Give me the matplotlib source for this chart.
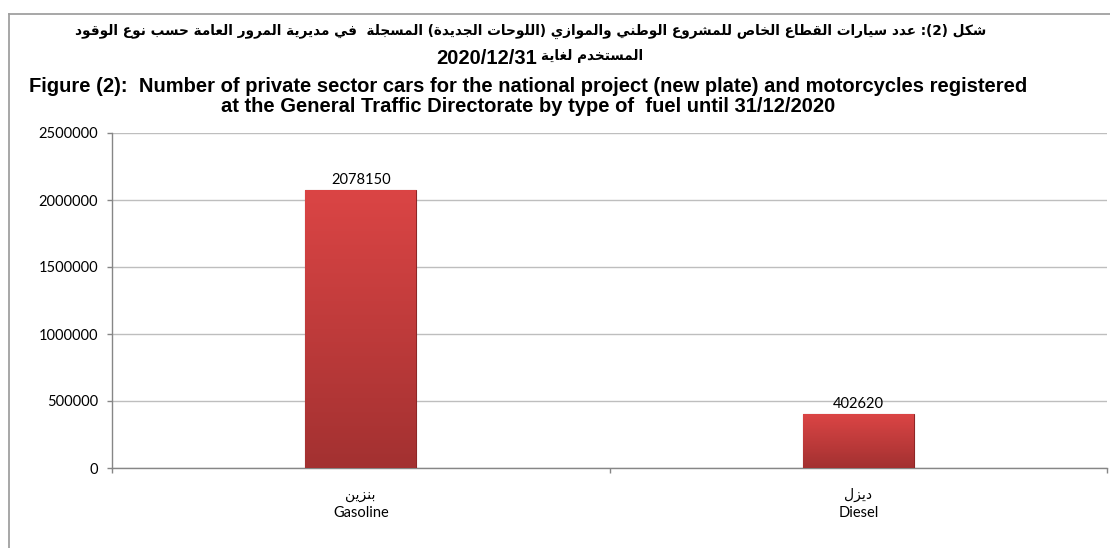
import re

import matplotlib
matplotlib.use("Agg")
import matplotlib.pyplot as plt
import numpy as np
from matplotlib.colors import LinearSegmentedColormap
from matplotlib.lines import Line2D

# --- data ---------------------------------------------------------------
categories_ar = ["بنزين", "ديزل"]
categories_en = ["Gasoline", "Diesel"]
values = [2078150, 402620]
y_ticks = [0, 500000, 1000000, 1500000, 2000000, 2500000]

title_ar_1 = "شكل (2): عدد سيارات القطاع الخاص للمشروع الوطني والموازي (اللوحات الجديدة) المسجلة  في مديرية المرور العامة حسب نوع الوقود"
title_ar_2 = "المستخدم لغاية"
title_date = "2020/12/31"
title_en_1 = "Figure (2):  Number of private sector cars for the national project (new plate) and motorcycles registered"
title_en_2 = "at the General Traffic Directorate by type of  fuel until 31/12/2020"

# --- minimal arabic shaping (matplotlib has no bidi / joining) ----------
# letter -> (isolated, final, initial, medial); 2-tuples join on the right only
FORMS = {
    "ا": (0xFE8D, 0xFE8E), "د": (0xFEA9, 0xFEAA), "ذ": (0xFEAB, 0xFEAC),
    "ر": (0xFEAD, 0xFEAE), "ز": (0xFEAF, 0xFEB0), "و": (0xFEED, 0xFEEE),
    "ة": (0xFE93, 0xFE94),
    "ب": (0xFE8F, 0xFE90, 0xFE91, 0xFE92), "ت": (0xFE95, 0xFE96, 0xFE97, 0xFE98),
    "ج": (0xFE9D, 0xFE9E, 0xFE9F, 0xFEA0), "ح": (0xFEA1, 0xFEA2, 0xFEA3, 0xFEA4),
    "خ": (0xFEA5, 0xFEA6, 0xFEA7, 0xFEA8), "س": (0xFEB1, 0xFEB2, 0xFEB3, 0xFEB4),
    "ش": (0xFEB5, 0xFEB6, 0xFEB7, 0xFEB8), "ص": (0xFEB9, 0xFEBA, 0xFEBB, 0xFEBC),
    "ط": (0xFEC1, 0xFEC2, 0xFEC3, 0xFEC4), "ع": (0xFEC9, 0xFECA, 0xFECB, 0xFECC),
    "غ": (0xFECD, 0xFECE, 0xFECF, 0xFED0), "ف": (0xFED1, 0xFED2, 0xFED3, 0xFED4),
    "ق": (0xFED5, 0xFED6, 0xFED7, 0xFED8), "ك": (0xFED9, 0xFEDA, 0xFEDB, 0xFEDC),
    "ل": (0xFEDD, 0xFEDE, 0xFEDF, 0xFEE0), "م": (0xFEE1, 0xFEE2, 0xFEE3, 0xFEE4),
    "ن": (0xFEE5, 0xFEE6, 0xFEE7, 0xFEE8), "ه": (0xFEE9, 0xFEEA, 0xFEEB, 0xFEEC),
    "ي": (0xFEF1, 0xFEF2, 0xFEF3, 0xFEF4),
}
MIRROR = {"(": ")", ")": "("}


def shape(text):
    out = []
    chars = list(text)
    i = 0
    while i < len(chars):
        c = chars[i]
        if c not in FORMS:
            out.append(c)
            i += 1
            continue
        prev = chars[i - 1] if i > 0 else ""
        joins_prev = prev in FORMS and len(FORMS[prev]) == 4
        if c == "ل" and i + 1 < len(chars) and chars[i + 1] == "ا":
            out.append(chr(0xFEFC if joins_prev else 0xFEFB))
            i += 2
            continue
        nxt = chars[i + 1] if i + 1 < len(chars) else ""
        joins_next = len(FORMS[c]) == 4 and nxt in FORMS
        f = FORMS[c]
        if joins_prev and joins_next:
            out.append(chr(f[3]))
        elif joins_prev:
            out.append(chr(f[1]))
        elif joins_next:
            out.append(chr(f[2]))
        else:
            out.append(chr(f[0]))
        i += 1
    vis = "".join(MIRROR.get(ch, ch) for ch in reversed(out))
    # keep number runs left-to-right
    return re.sub(r"[0-9/]+", lambda m: m.group(0)[::-1], vis)


# --- figure -------------------------------------------------------------
W, H = 1110, 548
fig = plt.figure(figsize=(W / 100, H / 100), dpi=100)
ax = fig.add_axes([112 / W, 1 - 468 / H, (1107 - 112) / W, (468 - 133) / H])

grid_c = "#bebebe"
axis_c = "#868686"
x = np.arange(len(values))
bars = ax.bar(x, values, width=0.223, color="#c43c3c", edgecolor="#8e2626",
              linewidth=0.8, zorder=3)

cmap = LinearSegmentedColormap.from_list("bar", ["#a33131", "#db4545"])
grad = np.linspace(0, 1, 256).reshape(-1, 1)
for b, v in zip(bars, values):
    x0, w, h = b.get_x(), b.get_width(), b.get_height()
    im = ax.imshow(grad, cmap=cmap, origin="lower", aspect="auto",
                   extent=[x0, x0 + w, 0, h], zorder=3.5)
    im.set_clip_path(b)
    ax.annotate(str(v), (x0 + w / 2, h), xytext=(0, 2), textcoords="offset points",
                ha="center", va="bottom", fontsize=10.5, family="Lato", zorder=5)

ax.set_xlim(-0.5, len(values) - 0.5)
ax.set_ylim(0, 2500000)
ax.set_aspect("auto")
ax.set_yticks(y_ticks)
ax.set_yticklabels([str(v) for v in y_ticks], family="Lato", fontsize=10.5)
ax.yaxis.grid(True, color=grid_c, linewidth=1.0, zorder=0)
ax.set_axisbelow(True)

ax.set_xticks(x)
ax.set_xticklabels([""] * len(x))
ax.set_xticks(np.arange(-0.5, len(values)), minor=True)
ax.tick_params(axis="x", which="major", length=0)
ax.tick_params(axis="x", which="minor", length=3.5, color=axis_c, width=1)
ax.tick_params(axis="y", length=3.5, color=axis_c, width=1, pad=6.5)

for s in ("top", "right"):
    ax.spines[s].set_visible(False)
for s in ("left", "bottom"):
    ax.spines[s].set_color(axis_c)
    ax.spines[s].set_linewidth(1.0)

for xi, ar, en in zip(x, categories_ar, categories_en):
    ax.text(xi, -27 / 335, shape(ar), transform=ax.get_xaxis_transform(),
            ha="center", va="center", fontsize=10, family="DejaVu Sans")
    ax.text(xi, -45 / 335, en, transform=ax.get_xaxis_transform(),
            ha="center", va="center", fontsize=10.5, family="Lato")

# titles
fig.text(531 / W, 1 - 31 / H, shape(title_ar_1), ha="center", va="center",
         fontsize=9.8, fontweight="bold", family="DejaVu Sans")
fig.text(537 / W, 1 - 58 / H, title_date, ha="right", va="center",
         fontsize=14.5, fontweight="bold", family="Liberation Sans")
fig.text(541 / W, 1 - 56 / H, shape(title_ar_2), ha="left", va="center",
         fontsize=9.8, fontweight="bold", family="DejaVu Sans")
fig.text(528 / W, 1 - 86 / H, title_en_1, ha="center", va="center",
         fontsize=14.5, fontweight="bold", family="Liberation Sans")
fig.text(528 / W, 1 - 106 / H, title_en_2, ha="center", va="center",
         fontsize=14.5, fontweight="bold", family="Liberation Sans")

# outer frame of the chart object
frame_c = "#a0a0a0"
fig.add_artist(Line2D([9 / W, 1], [1 - 13.5 / H] * 2, color=frame_c, lw=1.3,
                      transform=fig.transFigure))
fig.add_artist(Line2D([9 / W] * 2, [0, 1 - 13.5 / H], color=frame_c, lw=1.3,
                      transform=fig.transFigure))

fig.savefig("out.png", dpi=100)
